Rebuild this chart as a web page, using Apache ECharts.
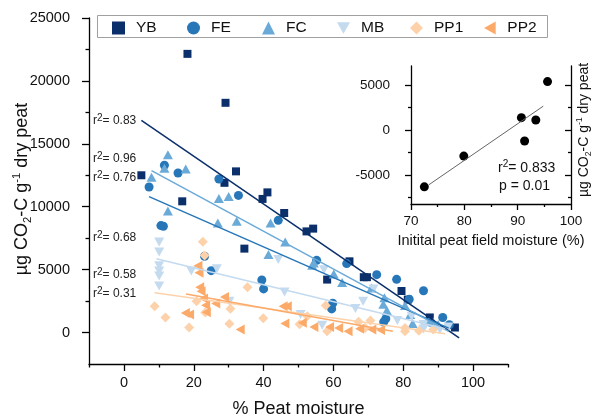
<!DOCTYPE html>
<html>
<head>
<meta charset="utf-8">
<title>CO2 vs peat moisture</title>
<script src="https://cdn.jsdelivr.net/npm/echarts@6/dist/echarts.min.js"></script>
<style>
  html, body { margin: 0; padding: 0; background: #fff; }
  #main { width: 595px; height: 417px; }
</style>
</head>
<body>
<div id="main"></div>
<script>
// values: [moisture %, ug CO2-C per g dry peat]
var YB = [[5.0,12500],[16.7,10430],[18.2,22150],[28.8,11900],[29.1,18260],[32.1,12810],[34.5,6670],
  [39.7,10620],[41.1,11140],[45.9,9500],[52.3,8040],[54.2,8260],[58.2,4210],[64.6,5660],[68.7,4400],
  [69.6,4400],[79.5,3300],[81.3,2620],[87.6,1200],[94.8,400]];
var FE = [[7.2,11570],[10.6,8500],[11.3,8450],[11.6,13300],[15.5,12680],[23.1,6060],[25.0,4920],
  [27.2,12200],[32.8,10900],[39.5,4180],[40.0,3470],[44.2,8920],[55.2,5740],[59.5,1880],[59.8,2330],
  [63.8,5480],[72.4,4600],[74.4,840],[75.0,1100],[78.1,4230],[81.7,2650],[85.8,3320],[91.3,1200],[93.2,620]];
var FC = [[7.9,12340],[11.6,13050],[12.6,14130],[12.6,9660],[17.7,13000],[26.9,8700],[27.2,10650],
  [30.0,10820],[32.3,8840],[41.4,6200],[42.0,8710],[46.2,7200],[53.9,5340],[54.4,5530],[60.1,4660],
  [62.5,3980],[70.9,3550],[74.3,2240],[74.6,2760],[75.3,1750],[80.5,2140],[82.0,1430],[82.7,710],
  [87.4,900],[88.6,820],[90.0,640]];
var MB = [[10.1,7200],[10.1,6400],[10.1,5300],[10.1,4900],[10.1,4500],[10.1,3700],[19.3,4900],
  [26.6,5080],[30.2,2490],[44.2,5800],[46.0,3220],[50.6,1430],[56.8,570],[57.3,5000],[66.3,1910],
  [68.5,2490],[71.5,3470],[78.3,950],[82.4,1290],[85.8,640],[85.8,290],[90.5,240],[92.9,450]];
var PP1 = [[8.8,2090],[11.9,1200],[18.7,400],[20.8,2490],[22.6,7220],[23.1,6120],[23.3,1600],
  [30.2,700],[30.5,1900],[35.4,3600],[39.9,1130],[50.3,660],[52.5,1300],[57.8,2140],[58.2,100],
  [67.2,850],[69.1,370],[70.6,950],[80.5,370],[80.5,100],[84.5,150],[88.6,240]];
var PP2 = [[17.6,1560],[18.8,1430],[21.2,5300],[21.5,4760],[21.7,3600],[22.1,3280],[22.8,2700],
  [23.4,2170],[23.6,1620],[26.3,2300],[28.8,2820],[33.3,240],[45.6,2090],[46.8,2090],[46.1,720],
  [51.1,770],[54.4,450],[58.9,450],[61.5,370],[64.2,100],[67.5,300],[71.0,240],[73.5,200]];

// fitted lines, end points
var ybFit = [[5.0,16860],[96.0,-420]];
var feFit = [[7.2,10800],[93.0,350]];
var fcFit = [[7.9,12870],[93.0,100]];
var mbFit = [[9.3,5870],[92.0,300]];
var pp1Fit = [[8.8,3170],[92.0,-100]];
var pp2Fit = [[17.8,3070],[77.0,100]];

var r2Values = ['0.83', '0.96', '0.76', '0.68', '0.58', '0.31'];

// inset: initial field moisture vs response
var insetX = [72.5, 79.9, 90.7, 91.3, 93.4, 95.6];
var insetY = [-6300, -2890, 1370, -1220, 1110, 5370];
var insetFitRange = [73.3, 94.8];

var xMajor = [0, 20, 40, 60, 80, 100];
var xMinor = [-10, 10, 30, 50, 70, 90, 110];
var yMajor = [0, 5000, 10000, 15000, 20000, 25000];
var yMinor = [2500, 7500, 12500, 17500, 22500];
var insetXMajor = [70, 80, 90, 100];
var insetXMinor = [75, 85, 95];
var insetYMajor = [-5000, 0, 5000];
var insetYMinor = [-7500, -2500, 2500];

var FONT = '"Liberation Sans", Arial, sans-serif';
var names = ['YB', 'FE', 'FC', 'MB', 'PP1', 'PP2'];
var groups = [YB, FE, FC, MB, PP1, PP2];
var fits = [ybFit, feFit, fcFit, mbFit, pp1Fit, pp2Fit];
var colors = ['#0b2f6b', '#2676b8', '#6aaad8', '#c3daef', '#fdd2ab', '#fcaa6a'];
var icons = ['rect', 'circle', 'triangle', 'path://M0,0L10,0L5,9Z', 'diamond', 'path://M0,5L9,0L9,10Z'];
var sizes = [8, 9, [10, 9], [10, 9], [10, 10], [9, 10]];
var legendLeft = [112, 187, 262, 337, 410, 484];

function makeAxis(grid, min, max, ticks, len, o) {
  o = o || {};
  return {
    type: 'value', gridIndex: grid, min: min, max: max, position: o.position,
    axisLine: { show: !!o.line, onZero: false, lineStyle: { color: '#000', width: 1.3 } },
    axisTick: { show: true, inside: !!o.inside, length: len, customValues: ticks,
      lineStyle: { color: '#000', width: 1.3 } },
    axisLabel: { show: !!o.labels, customValues: ticks, fontSize: o.fontSize, margin: o.margin,
      color: '#111', fontFamily: FONT, formatter: function (v) { return String(v); } },
    splitLine: { show: false },
    name: o.name, nameLocation: 'middle', nameGap: o.nameGap,
    nameTextStyle: { fontSize: o.nameSize, color: '#111', fontFamily: FONT }
  };
}

// least squares line for the inset
function regress(xs, ys, range) {
  var n = xs.length, mx = 0, my = 0, sxy = 0, sxx = 0;
  for (var i = 0; i < n; i++) { mx += xs[i] / n; my += ys[i] / n; }
  for (var j = 0; j < n; j++) { sxy += (xs[j] - mx) * (ys[j] - my); sxx += (xs[j] - mx) * (xs[j] - mx); }
  var b = sxy / sxx, a = my - b * mx;
  return [[range[0], a + b * range[0]], [range[1], a + b * range[1]]];
}

var series = [];
names.forEach(function (n, i) {
  series.push({
    name: n, type: 'scatter', xAxisIndex: 0, yAxisIndex: 0,
    symbol: icons[i], symbolSize: sizes[i], data: groups[i],
    itemStyle: { color: colors[i], opacity: 1 }
  });
});
names.forEach(function (n, i) {
  series.push({
    name: n + ' fit', type: 'line', xAxisIndex: 0, yAxisIndex: 0,
    showSymbol: false, symbol: 'none', silent: true, data: fits[i],
    lineStyle: { color: colors[i], width: 1.5 }
  });
});
series.push({
  name: 'inset', type: 'scatter', xAxisIndex: 2, yAxisIndex: 2, symbolSize: 9,
  data: insetX.map(function (x, i) { return [x, insetY[i]]; }),
  itemStyle: { color: '#000', opacity: 1 }
});
series.push({
  name: 'inset fit', type: 'line', xAxisIndex: 2, yAxisIndex: 2, symbol: 'none', silent: true,
  data: regress(insetX, insetY, insetFitRange),
  lineStyle: { color: '#666', width: 1 }
});

var richBase = {
  t: { fontSize: 12, lineHeight: 16, fontFamily: FONT, fill: '#222' },
  s: { fontSize: 10, lineHeight: 9, verticalAlign: 'top', fontFamily: FONT, fill: '#222' }
};
var r2Y = [121, 159, 178, 238, 275, 294];
// legend frame first, so the legends sit on top of it
var graphics = [{ type: 'rect', silent: true, z: 3,
  shape: { x: 97.5, y: 15.5, width: 450, height: 22 },
  style: { fill: '#fff', stroke: '#a0a0a0', lineWidth: 1 } }];
r2Values.forEach(function (v, i) {
  graphics.push({ type: 'text', x: 93, y: r2Y[i], silent: true,
    style: { text: '{t|r}{s|2}{t|= ' + v + '}', align: 'left', verticalAlign: 'middle', rich: richBase } });
});

function unitName(size, x, y) {
  return { type: 'text', x: x, y: y, rotation: Math.PI / 2, silent: true,
    style: {
      text: '{t|\u00b5g CO}{sb|2}{t|-C g}{sp|-1}{t| dry peat}', align: 'center', verticalAlign: 'middle',
      rich: {
        t: { fontSize: size, lineHeight: size + 4, fontFamily: FONT, fill: '#111' },
        sb: { fontSize: size * 0.62, lineHeight: size * 0.5, verticalAlign: 'bottom', fontFamily: FONT, fill: '#111' },
        sp: { fontSize: size * 0.62, lineHeight: size * 0.62, verticalAlign: 'top', fontFamily: FONT, fill: '#111' }
      }
    } };
}
graphics.push(unitName(18, 22, 189));
graphics.push(unitName(14, 584, 130));
graphics.push({ type: 'text', x: 498, y: 168, silent: true,
  style: { text: '{t|r}{s|2}{t|= 0.833}', align: 'left', verticalAlign: 'middle',
    rich: { t: { fontSize: 14, lineHeight: 18, fontFamily: FONT, fill: '#111' },
            s: { fontSize: 10, lineHeight: 10, verticalAlign: 'top', fontFamily: FONT, fill: '#111' } } } });
graphics.push({ type: 'text', x: 499, y: 186, silent: true,
  style: { text: 'p = 0.01', align: 'left', verticalAlign: 'middle', fontSize: 14, fontFamily: FONT, fill: '#111' } });

// one legend per series so the items keep even steps
var legends = names.map(function (n, i) {
  return {
    left: legendLeft[i], top: 20, padding: 0, selectedMode: false, z: 5,
    itemWidth: 13, itemHeight: 13,
    data: [{ name: n, icon: icons[i] }],
    formatter: '{k|{name}}',
    textStyle: { fontSize: 15.5, color: '#111', fontFamily: FONT,
      rich: { k: { padding: [0, 0, 0, 6], fontSize: 15.5, fontFamily: FONT, color: '#111' } } }
  };
});

var option = {
  animation: false,
  backgroundColor: '#fff',
  textStyle: { fontFamily: FONT },
  legend: legends,
  grid: [
    { left: 89, right: 87, top: 18, bottom: 53, outerBoundsMode: 'none' },
    { left: 411, right: 24, top: 66, bottom: 213, outerBoundsMode: 'none' }
  ],
  xAxis: [
    makeAxis(0, -10, 110, xMajor, 7, { line: true, labels: true, fontSize: 14.5, margin: 11,
      position: 'bottom', name: '% Peat moisture', nameGap: 36, nameSize: 18 }),
    makeAxis(0, -10, 110, xMinor, 3.5, { position: 'bottom' }),
    makeAxis(1, 70, 100, insetXMajor, 6, { line: true, labels: true, fontSize: 13.5, margin: 10,
      position: 'bottom', name: 'Initital peat field moisture (%)', nameGap: 29, nameSize: 14.5 }),
    makeAxis(1, 70, 100, insetXMinor, 3, { position: 'bottom' })
  ],
  yAxis: [
    makeAxis(0, -2500, 25000, yMajor, 7, { line: true, labels: true, fontSize: 14.5, margin: 19, position: 'left' }),
    makeAxis(0, -2500, 25000, yMinor, 3.5, { position: 'left' }),
    makeAxis(1, -8200, 7100, insetYMajor, 6, { line: true, labels: true, fontSize: 13.5, margin: 21, position: 'left' }),
    makeAxis(1, -8200, 7100, insetYMinor, 3, { position: 'left' }),
    makeAxis(1, -8200, 7100, insetYMajor, 6, { line: true, inside: true, position: 'right' }),
    makeAxis(1, -8200, 7100, insetYMinor, 3, { inside: true, position: 'right' })
  ],
  series: series,
  graphic: graphics
};

var chart = echarts.init(document.getElementById('main'));
chart.setOption(option);
</script>
</body>
</html>
